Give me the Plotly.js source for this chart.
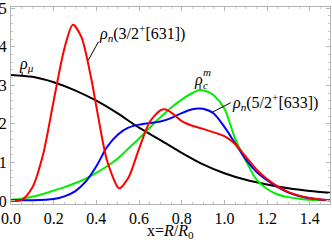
<!DOCTYPE html>
<html><head><meta charset="utf-8">
<script src="https://cdn.plot.ly/plotly-3.0.1.min.js"></script>
<style>html,body{margin:0;padding:0;background:#fff}</style>
</head><body>
<div id="chart" style="width:332px;height:247px"></div>
<script>
// x grid (R/R0)
const xMu = [0,0.1,0.2,0.3,0.4,0.5,0.6,0.7,0.8,0.9,1.0,1.1,1.2,1.3,1.4,1.5];
const rhoMu = [3.27,3.22,3.08,2.87,2.60,2.27,1.90,1.58,1.25,0.95,0.72,0.55,0.43,0.33,0.26,0.21];

const xRed = [0,0.05,0.10,0.15,0.20,0.25,0.29,0.33,0.375,0.40,0.45,0.50,0.51,0.55,0.60,0.65,0.70,0.72,0.75,0.80,0.85,0.90,0.95,1.00,1.05,1.10,1.15,1.20,1.25,1.30,1.35,1.40,1.45,1.50];
const rhoN631 = [0.0,0.03,0.35,1.2,2.6,3.95,4.57,4.25,3.2,2.45,1.05,0.36,0.33,0.6,1.35,2.05,2.35,2.38,2.3,2.07,1.95,1.87,1.78,1.68,1.48,1.15,0.82,0.57,0.38,0.23,0.14,0.08,0.04,0.02];

const xBlue = [0,0.1,0.2,0.25,0.3,0.35,0.4,0.45,0.5,0.55,0.6,0.65,0.7,0.75,0.8,0.85,0.88,0.9,0.95,1.0,1.05,1.1,1.15,1.2,1.25,1.3,1.35,1.4,1.45,1.5];
const rhoN633 = [0.02,0.02,0.05,0.12,0.25,0.5,0.9,1.40,1.72,1.90,1.98,2.02,2.06,2.15,2.28,2.38,2.40,2.39,2.27,1.92,1.50,1.08,0.76,0.54,0.36,0.22,0.13,0.07,0.04,0.02];

const xGreen = [0,0.05,0.1,0.15,0.2,0.25,0.3,0.35,0.4,0.45,0.5,0.55,0.6,0.65,0.7,0.75,0.8,0.85,0.885,0.92,0.95,1.0,1.05,1.1,1.15,1.2,1.25,1.3,1.35,1.4,1.5];
const rhoCm = [0.03,0.06,0.11,0.18,0.27,0.36,0.46,0.58,0.73,0.9,1.1,1.36,1.62,1.9,2.17,2.42,2.63,2.80,2.88,2.84,2.74,2.40,1.62,1.05,0.56,0.31,0.17,0.10,0.06,0.03,0.02];

const xTickVals = [0,0.2,0.4,0.6,0.8,1.0,1.2,1.4];
const xTickText = ['0.0','0.2','0.4','0.6','0.8','1.0','1.2','1.4'];
const yTickVals = [0,1,2,3,4,5];
const yTickText = ['0','1','2','3','4','5'];

const ln = (c) => ({color:c, width:2, shape:'spline', smoothing:0.8});

const traces = [
  {x:xMu, y:rhoMu, mode:'lines', line:ln('#000000')},
  {x:xGreen, y:rhoCm, mode:'lines', line:ln('#00ee00')},
  {x:xBlue, y:rhoN633, mode:'lines', line:ln('#0000ff')},
  {x:xRed, y:rhoN631, mode:'lines', line:ln('#ff0000')}
];

const ann = (x,y,t,xa,size) => {
  const a = {x:x, y:y, xref:'x', yref:'y', text:t, showarrow:false, xanchor:xa||'left', yanchor:'middle'};
  if (size) a.font = {size:size};
  return a;
};

const layout = {
  width:332, height:247,
  margin:{l:11, r:2, t:7, b:43},
  showlegend:false,
  font:{family:'Liberation Serif', size:16, color:'#000'},
  xaxis:{range:[0,1.495], tickvals:xTickVals, ticktext:xTickText, ticks:'inside', ticklen:4,
    tickcolor:'#b4b4b4', showline:true, linecolor:'#b4b4b4', linewidth:1, mirror:'allticks',
    showgrid:false, zeroline:false, ticklabeloverflow:'allow',
    minor:{dtick:0.05, tick0:0, ticks:'inside', ticklen:2, tickcolor:'#c8c8c8', showgrid:false}},
  yaxis:{range:[-0.078,5.03], tickvals:yTickVals, ticktext:yTickText, ticks:'inside', ticklen:4,
    tickcolor:'#b4b4b4', showline:true, linecolor:'#b4b4b4', linewidth:1, mirror:'allticks',
    showgrid:false, zeroline:false, ticklabeloverflow:'allow',
    minor:{dtick:0.2, tick0:0, ticks:'inside', ticklen:2, tickcolor:'#c8c8c8', showgrid:false}},
  annotations:[
    {x:0.5, y:-0.14, xref:'paper', yref:'paper', xanchor:'center', yanchor:'middle', showarrow:false,
     text:'x=<i>R</i>/<i>R</i><sub>0</sub>'},
    ann(0.03, 3.55, '<i>ρ</i><sub><i>μ</i></sub>'),
    ann(0.405, 4.35, '<i>ρ</i><sub><i>n</i></sub>(3/2<sup>+</sup>[631])'),
    ann(0.85, 3.15, '<i>ρ</i>'),
    ann(0.89, 3.02, '<i>c</i>', 'left', 11),
    ann(0.89, 3.35, '<i>m</i>', 'left', 11),
    ann(1.025, 2.57, '<i>ρ</i><sub><i>n</i></sub>(5/2<sup>+</sup>[633])')
  ],
  shapes:[
    {type:'line', xref:'x', yref:'y', x0:0.052, y0:3.35, x1:0.052, y1:3.25, line:{color:'#000', width:1}},
    {type:'line', xref:'x', yref:'y', x0:0.41, y0:4.13, x1:0.362, y1:3.65, line:{color:'#000', width:1}},
    {type:'line', xref:'x', yref:'y', x0:0.886, y0:3.01, x1:0.886, y1:2.90, line:{color:'#000', width:1}},
    {type:'line', xref:'x', yref:'y', x0:1.03, y0:2.55, x1:0.943, y1:2.30, line:{color:'#000', width:1}}
  ]
};

Plotly.newPlot('chart', traces, layout, {staticPlot:true});
</script>
</body></html>
